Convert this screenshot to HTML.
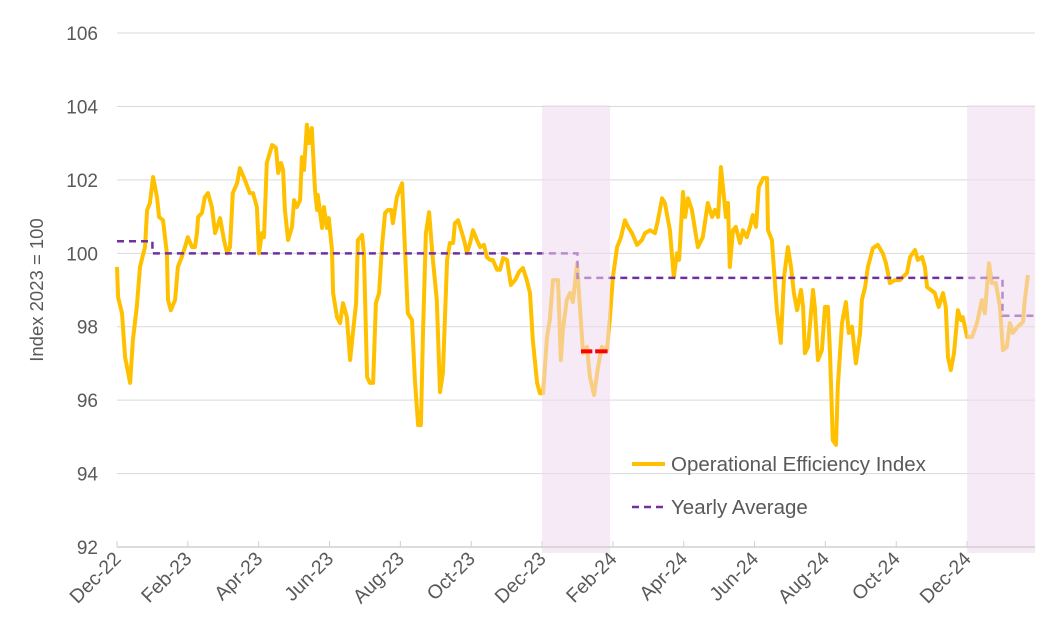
<!DOCTYPE html>
<html><head><meta charset="utf-8"><style>
body{margin:0;background:#fff;}
svg{display:block;font-family:"Liberation Sans",Arial,sans-serif;}
</style></head><body>
<svg id="chart" width="1052" height="635"></svg>
<script>
const months=[0,0.03,0.14,0.23,0.37,0.45,0.56,0.65,0.79,0.85,0.93,1.02,1.13,1.19,1.30,1.41,1.44,1.52,1.64,1.72,1.83,1.92,2.00,2.12,2.20,2.26,2.29,2.40,2.48,2.57,2.68,2.77,2.91,3.02,3.11,3.19,3.27,3.39,3.47,3.61,3.75,3.84,3.95,4.01,4.09,4.15,4.23,4.38,4.49,4.55,4.63,4.69,4.74,4.83,4.94,5.00,5.08,5.17,5.22,5.28,5.36,5.42,5.50,5.59,5.65,5.67,5.79,5.84,5.93,5.98,6.07,6.10,6.21,6.30,6.38,6.49,6.58,6.66,6.75,6.80,6.92,6.97,7.06,7.14,7.23,7.31,7.40,7.48,7.57,7.65,7.74,7.79,7.90,8.05,8.13,8.21,8.33,8.41,8.50,8.58,8.64,8.72,8.81,8.92,9.03,9.12,9.20,9.32,9.40,9.49,9.54,9.63,9.74,9.82,9.88,9.97,10.05,10.16,10.25,10.36,10.44,10.53,10.61,10.73,10.81,10.90,11.01,11.12,11.24,11.35,11.46,11.57,11.66,11.74,11.86,11.94,12.03,12.14,12.22,12.31,12.45,12.53,12.59,12.70,12.79,12.87,12.99,13.07,13.16,13.27,13.35,13.47,13.58,13.69,13.83,13.92,14.00,14.12,14.23,14.34,14.43,14.54,14.68,14.82,14.91,15.05,15.19,15.27,15.39,15.47,15.61,15.72,15.81,15.87,15.98,16.04,16.12,16.23,16.32,16.40,16.54,16.68,16.80,16.88,16.97,17.05,17.11,17.19,17.25,17.30,17.39,17.47,17.59,17.67,17.78,17.87,17.95,18.04,18.12,18.24,18.35,18.38,18.49,18.55,18.63,18.74,18.83,18.94,19.03,19.11,19.20,19.31,19.37,19.42,19.51,19.65,19.70,19.79,19.90,19.99,20.07,20.13,20.21,20.30,20.35,20.47,20.58,20.66,20.75,20.86,20.98,21.03,21.12,21.20,21.34,21.48,21.62,21.71,21.82,21.96,22.10,22.30,22.39,22.53,22.61,22.73,22.81,22.87,22.98,23.09,23.20,23.32,23.40,23.46,23.54,23.63,23.74,23.83,23.88,24.00,24.14,24.28,24.42,24.50,24.62,24.70,24.81,24.93,25.01,25.12,25.21,25.29,25.43,25.58,25.63,25.72];
const values=[99.63,98.8,98.37,97.17,96.47,97.64,98.54,99.63,100.17,101.18,101.37,102.08,101.53,100.99,100.9,100.0,98.73,98.45,98.73,99.63,99.9,100.17,100.44,100.17,100.17,100.55,100.99,101.1,101.53,101.64,101.26,100.55,100.96,100.36,100.0,100.17,101.64,101.91,102.32,102.0,101.64,101.64,101.26,100.0,100.55,100.44,102.46,102.95,102.87,102.19,102.46,102.27,101.18,100.36,100.72,101.45,101.26,101.45,102.62,102.27,103.5,103.0,103.41,101.72,101.18,101.59,100.69,101.26,100.69,100.96,100.09,98.92,98.26,98.1,98.64,98.26,97.09,97.83,98.64,100.36,100.5,100.0,96.63,96.47,96.47,98.64,98.92,100.17,101.1,101.18,101.18,100.82,101.53,101.91,100.09,98.37,98.18,96.55,95.32,95.32,97.83,100.55,101.12,99.82,98.73,96.22,96.74,99.82,100.28,100.28,100.82,100.9,100.55,100.28,100.0,100.28,100.63,100.36,100.17,100.23,99.9,99.82,99.82,99.55,99.55,99.87,99.82,99.14,99.27,99.49,99.6,99.27,98.92,97.64,96.47,96.19,96.19,97.72,98.18,99.27,99.27,97.09,97.91,98.73,98.92,98.67,99.73,98.54,97.28,97.45,96.63,96.14,96.9,97.45,97.36,98.26,99.35,100.17,100.44,100.9,100.72,100.55,100.23,100.36,100.55,100.63,100.55,100.9,101.5,101.37,100.63,99.35,100.0,99.82,101.67,100.99,101.5,101.18,100.63,100.17,100.44,101.37,100.99,101.18,100.99,102.35,101.8,100.99,101.37,99.63,100.63,100.72,100.28,100.63,100.44,100.72,101.04,100.72,101.8,102.05,102.05,100.63,100.36,99.55,98.45,97.56,99.35,100.17,99.63,98.92,98.45,99.0,98.54,97.28,97.45,99.0,98.54,97.09,97.36,98.54,98.54,97.28,94.91,94.78,96.36,98.1,98.67,97.83,98.0,97.0,97.83,98.73,99.08,99.63,100.14,100.23,100.0,99.73,99.19,99.27,99.27,99.46,99.9,100.09,99.82,99.9,99.63,99.08,99.0,98.92,98.54,98.92,98.54,97.17,96.82,97.28,98.45,98.18,98.26,97.72,97.72,98.1,98.73,98.37,99.73,99.19,99.19,98.54,97.36,97.45,98.1,97.83,98.0,98.13,98.73,99.41];
const avgStart=[0,1.0,13.0,25.0];
const avgEnd=[1.0,13.0,25.0,25.9];
const avgValues=[100.33,100.0,99.33,98.3];
const yTicks=[92,94,96,98,100,102,104,106];
const xTickLabels=["Dec-22","Feb-23","Apr-23","Jun-23","Aug-23","Oct-23","Dec-23","Feb-24","Apr-24","Jun-24","Aug-24","Oct-24","Dec-24"];
const xTickMonths=[0,2,4,6,8,10,12,14,16,18,20,22,24];
const shadeStart=[12,24];
const shadeEnd=[13.92,25.92];
const markStart=[13.1,13.5];
const markEnd=[13.42,13.85];
const markValue=97.33;

const NS="http://www.w3.org/2000/svg";
const svg=document.getElementById('chart');
const X0=117,PX_M=35.42,Y0=547,PX_U=36.71;
const xs=m=>X0+m*PX_M;
const ys=v=>Y0-(v-92)*PX_U;
function mk(t,a,p){const e=document.createElementNS(NS,t);for(const k in a)e.setAttribute(k,a[k]);(p||svg).appendChild(e);return e;}

yTicks.forEach(v=>{
  const g=mk('line',{x1:117,x2:1035,y1:ys(v),y2:ys(v),stroke:'#d9d9d9','stroke-width':1});
  
  
  const t=mk('text',{x:98,y:ys(v)+7,'text-anchor':'end','font-size':19,fill:'#595959'});
  t.textContent=v;
  
  
});
xTickMonths.forEach((m,i)=>{
  const tk=mk('line',{x1:xs(m),x2:xs(m),y1:Y0-6,y2:Y0,stroke:'#d0d0d0','stroke-width':1});
  
  
  const t=mk('text',{x:xs(m)+5,y:Y0+13,'text-anchor':'end','font-size':19.5,fill:'#595959',transform:`rotate(-45 ${xs(m)+5} ${Y0+13})`});
  t.textContent=xTickLabels[i];
  
  
});

let d='';months.forEach((m,i)=>{d+=(i?'L':'M')+xs(m).toFixed(1)+' '+ys(values[i]).toFixed(1);});
const line=mk('path',{d:d,fill:'none',stroke:'#ffc000','stroke-width':4,'stroke-linejoin':'round'});



let ad='';avgValues.forEach((v,i)=>{ad+=(i?'L':'M')+xs(avgStart[i])+' '+ys(v)+'L'+xs(avgEnd[i])+' '+ys(v);});
const avg=mk('path',{d:ad,fill:'none',stroke:'#7030a0','stroke-width':2.5,'stroke-dasharray':'7 5'});



shadeStart.forEach((s,i)=>{
  const r=mk('rect',{x:xs(s),y:105,width:xs(shadeEnd[i])-xs(s),height:Y0+6-105,fill:'#f1d8f0','fill-opacity':0.55});
  
  
});
markStart.forEach((s,i)=>{
  const r=mk('rect',{x:xs(s),y:ys(markValue)-2,width:xs(markEnd[i])-xs(s),height:4,fill:'#ff0000'});
  
  
});

const ax=mk('line',{x1:117,x2:1035,y1:Y0,y2:Y0,stroke:'#d0d0d0','stroke-width':1.5});



const yt=mk('text',{x:43,y:290,'text-anchor':'middle','font-size':18.5,fill:'#595959',transform:'rotate(-90 43 290)'});
yt.textContent='Index 2023 = 100';



const l1=mk('line',{x1:632,x2:665,y1:464,y2:464,stroke:'#ffc000','stroke-width':4});


const t1=mk('text',{x:671,y:471,'font-size':20.5,fill:'#595959'});
t1.textContent='Operational Efficiency Index';


const l2=mk('line',{x1:632,x2:665,y1:507,y2:507,stroke:'#7030a0','stroke-width':2.5,'stroke-dasharray':'7 5'});


const t2=mk('text',{x:671,y:514,'font-size':20.5,fill:'#595959'});
t2.textContent='Yearly Average';


</script>
</body></html>
